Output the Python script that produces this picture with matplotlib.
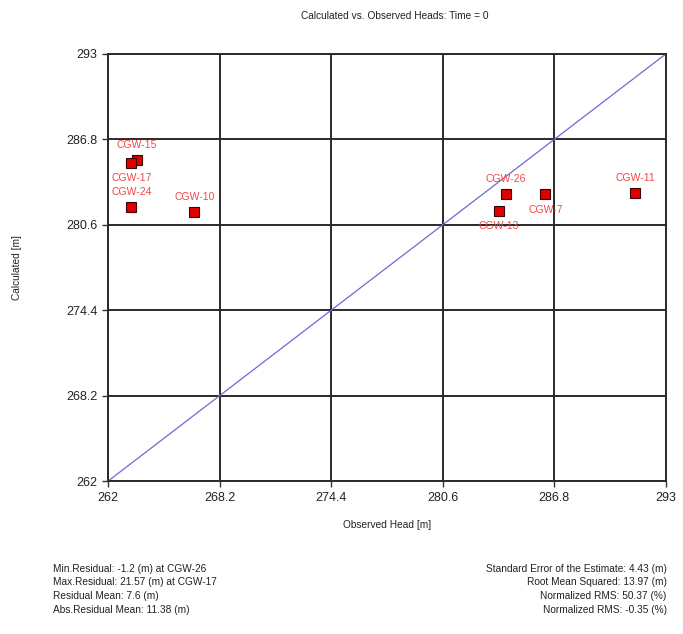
import matplotlib
matplotlib.use("Agg")
import matplotlib.pyplot as plt

plt.rcParams['font.family'] = ['Liberation Sans Narrow', 'Liberation Sans', 'DejaVu Sans']

# observation wells: observed vs calculated heads (m)
wells = ["CGW-15", "CGW-17", "CGW-24", "CGW-10", "CGW-26", "CGW-13", "CGW-7", "CGW-11"]
observed = [263.6, 263.3, 263.3, 266.8, 284.1, 283.7, 286.3, 291.3]
calculated = [285.3, 285.1, 281.9, 281.5, 282.8, 281.6, 282.8, 282.9]
# label placement: +1 above the marker, -1 below
label_side = [1, -1, 1, 1, 1, -1, -1, 1]

ticks = [262, 268.2, 274.4, 280.6, 286.8, 293]
tick_labels = ["262", "268.2", "274.4", "280.6", "286.8", "293"]

stats_left = [
    "Min.Residual: -1.2 (m) at CGW-26",
    "Max.Residual: 21.57 (m) at CGW-17",
    "Residual Mean: 7.6 (m)",
    "Abs.Residual Mean: 11.38 (m)",
]
stats_right = [
    "Standard Error of the Estimate: 4.43 (m)",
    "Root Mean Squared: 13.97 (m)",
    "Normalized RMS: 50.37 (%)",
    "Normalized RMS: -0.35 (%)",
]

fig = plt.figure(figsize=(6.83, 6.34), dpi=100)
ax = fig.add_axes([0.158, 0.241, 0.817, 0.674])

ax.set_xlim(ticks[0], ticks[-1])
ax.set_ylim(ticks[0], ticks[-1])
ax.set_xticks(ticks)
ax.set_yticks(ticks)
ax.set_xticklabels(tick_labels)
ax.set_yticklabels(tick_labels)
ax.grid(True, color="#2a2a2a", linewidth=1.4)
ax.set_axisbelow(True)
for s in ax.spines.values():
    s.set_color("#2a2a2a")
    s.set_linewidth(1.4)
ax.tick_params(length=4, width=1, colors="#333333", labelsize=9, labelcolor="#222222")

# 1:1 line
ax.plot([ticks[0], ticks[-1]], [ticks[0], ticks[-1]], color="#6a6ad8", linewidth=0.9, zorder=2)

ax.plot(observed, calculated, linestyle="none", marker="s", markersize=7.5,
        markerfacecolor="#e00000", markeredgecolor="#400000", markeredgewidth=0.8, zorder=3)

for name, x, y, side in zip(wells, observed, calculated, label_side):
    ax.annotate(name, (x, y), xytext=(0, 11 * side), textcoords="offset points",
                ha="center", va="center", color="#f04848", fontsize=7.5, zorder=4)

fig.text(0.578, 0.975, "Calculated vs. Observed Heads: Time = 0", ha="center", va="center",
         fontsize=7.3, color="#222222")
ax.set_xlabel("Observed Head [m]", fontsize=7.3, color="#222222", labelpad=12)
ax.set_ylabel("Calculated [m]", fontsize=7.3, color="#222222", labelpad=32)

for i, t in enumerate(stats_left):
    fig.text(0.078, 0.103 - i * 0.0215, t, ha="left", va="center", fontsize=7.3, color="#222222")
for i, t in enumerate(stats_right):
    fig.text(0.976, 0.103 - i * 0.0215, t, ha="right", va="center", fontsize=7.3, color="#222222")

fig.savefig("out.png", dpi=100)
